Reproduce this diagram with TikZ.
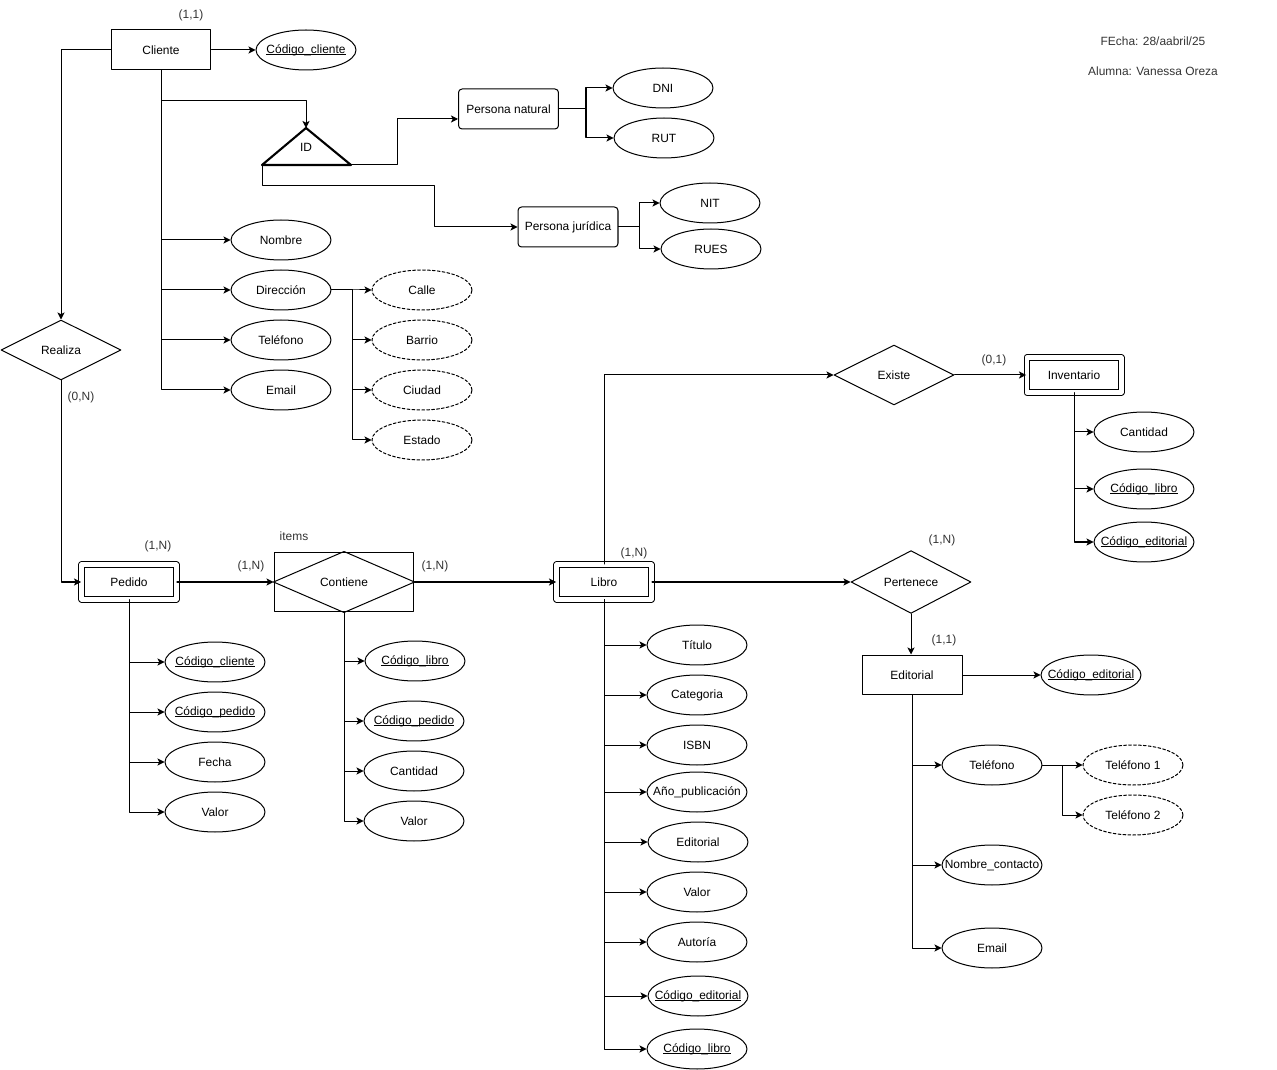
\documentclass[tikz,border=0pt]{standalone}
\usepackage{fontspec}
\setmainfont{Liberation Sans}
\usepackage{tikz}
\usetikzlibrary{arrows.meta,shapes.geometric}

\newcommand{\keyul}[1]{\setbox0\hbox{#1}\rlap{\rule[-0.9pt]{\wd0}{0.4pt}}\box0}

\tikzset{
  ent/.style={draw,rectangle,minimum width=2cm,minimum height=0.8cm,inner sep=0pt},
  went/.style={draw,rectangle,double,double distance=2.3pt,minimum width=1.9cm,minimum height=0.7cm,inner sep=0pt},
  spec/.style={draw,rectangle,rounded corners=2pt,minimum width=2cm,minimum height=0.8cm,inner sep=0pt},
  rel/.style={draw,diamond,minimum width=2.4cm,minimum height=1.2cm,inner sep=0pt},
  attr/.style={draw,ellipse,minimum width=2cm,minimum height=0.8cm,inner sep=0pt,
    execute at begin node={\hbox to 0pt\bgroup\hss},execute at end node={\hss\egroup}},
  mattr/.style={attr,dashed,dash pattern=on 1.6pt off 1.2pt},
  card/.style={inner sep=0pt,text=black!80}
}

\begin{document}
\begin{tikzpicture}[line cap=round,line join=round,>={Stealth[length=4pt,width=4pt,inset=1pt]},x=0.02cm,y=-0.02cm,line width=0.57pt,font=\fontsize{6.8pt}{8pt}\selectfont]
        \useasboundingbox (0,0) rectangle (1277,1070);
        % Cliente
        \node[ent] (cli) at (161,50) {Cliente};
        \node[attr] (codcli) at (306,50) {\keyul{Código\_cliente}};
        \node[card] (c11a) at (191,15) {(1,1)};
        \draw[->] (cli) -- (codcli);
        \node[attr] (nom) at (281,240) {Nombre};
        \node[attr] (dir) at (281,290) {Dirección};
        \node[attr] (tel) at (281,340) {Teléfono};
        \node[attr] (ema) at (281,390) {Email};
        \draw[->] (cli.south) |- (nom.west);
        \draw[->] (cli.south) |- (dir.west);
        \draw[->] (cli.south) |- (tel.west);
        \draw[->] (cli.south) |- (ema.west);
        \node[mattr] (cal) at (422,290) {Calle};
        \node[mattr] (bar) at (422,340) {Barrio};
        \node[mattr] (ciu) at (422,390) {Ciudad};
        \node[mattr] (est) at (422,440) {Estado};
        \draw[->] (dir.east) -- ++(21,0) |- (cal.west);
        \draw[->] (dir.east) -- ++(21,0) |- (bar.west);
        \draw[->] (dir.east) -- ++(21,0) |- (ciu.west);
        \draw[->] (dir.east) -- ++(21,0) |- (est.west);
        % especializacion
        \coordinate (idtop) at (306,128);
        \coordinate (idl) at (262,165);
        \coordinate (idr) at (351,165);
        \draw[line width=1.2pt] (idl) -- (idtop) -- (idr) -- cycle;
        \node (idt) at (306,147) {ID};
        \draw[->] (cli.south) -- ++(0,30) -| (idtop);
        \node[spec] (pnat) at (508.5,109) {Persona natural};
        \node[spec] (pjur) at (568,227) {Persona jurídica};
        \draw[->] (idr) -- ++(46,0) |- ([yshift=-0.2cm]pnat.west);
        \draw[->] (idl) |- (434,186) |- (pjur.west);
        \node[attr] (dni) at (663,88) {DNI};
        \node[attr] (rut) at (664,138) {RUT};
        \node[attr] (nit) at (710,203) {NIT};
        \node[attr] (rues) at (711,249) {RUES};
        \draw[->] (pnat.east) -- ++(27,0) |- (dni.west);
        \draw[->] (pnat.east) -- ++(27,0) |- (rut.west);
        \draw[->] (pjur.east) -- ++(21,0) |- (nit.west);
        \draw[->] (pjur.east) -- ++(21,0) |- (rues.west);
        % Realiza / Pedido
        \node[rel] (rea) at (61,350) {Realiza};
        \node[card] (c0n) at (81,397) {(0,N)};
        \draw[->] (cli.west) -| (rea.north);
        \node[went] (ped) at (129,582) {Pedido};
        \node[card] (c1na) at (158,546) {(1,N)};
        \draw[->] (rea.south) |- (ped.west);
        \node[attr] (pcodcli) at (215,662) {\keyul{Código\_cliente}};
        \node[attr] (pcodped) at (215,712) {\keyul{Código\_pedido}};
        \node[attr] (pfec) at (215,762) {Fecha};
        \node[attr] (pval) at (215,812) {Valor};
        \draw[->] (ped.south) |- (pcodcli.west);
        \draw[->] (ped.south) |- (pcodped.west);
        \draw[->] (ped.south) |- (pfec.west);
        \draw[->] (ped.south) |- (pval.west);
        % Contiene
        \node[draw,rectangle,minimum width=2.8cm,minimum height=1.2cm,inner sep=0pt] (cont) at (344,582) {Contiene};
        \draw (cont.west) -- (cont.north) -- (cont.east) -- (cont.south) -- cycle;
        \node[card] (items) at (294,536) {items};
        \node[card] (c1nb) at (251,566) {(1,N)};
        \node[card] (c1nc) at (435,566) {(1,N)};
        \draw[->] (ped) -- (cont);
        \node[attr] (ccodlib) at (415,661) {\keyul{Código\_libro}};
        \node[attr] (ccodped) at (414,721) {\keyul{Código\_pedido}};
        \node[attr] (ccan) at (414,771) {Cantidad};
        \node[attr] (cval) at (414,821) {Valor};
        \draw[->] (cont.south) |- (ccodlib.west);
        \draw[->] (cont.south) |- (ccodped.west);
        \draw[->] (cont.south) |- (ccan.west);
        \draw[->] (cont.south) |- (cval.west);
        % Libro
        \node[went] (lib) at (604,582) {Libro};
        \node[card] (c1nd) at (634,553) {(1,N)};
        \draw[->] (cont) -- (lib);
        \node[attr] (ltit) at (697,645) {Título};
        \node[attr] (lcat) at (697,695) {Categoria};
        \node[attr] (lisbn) at (697,745) {ISBN};
        \node[attr] (lano) at (697,792) {Año\_publicación};
        \node[attr] (ledi) at (698,842) {Editorial};
        \node[attr] (lval) at (697,892) {Valor};
        \node[attr] (laut) at (697,942) {Autoría};
        \node[attr] (lcoded) at (698,996) {\keyul{Código\_editorial}};
        \node[attr] (lcodlib) at (697,1049) {\keyul{Código\_libro}};
        \foreach \a in {ltit,lcat,lisbn,lano,ledi,lval,laut,lcoded,lcodlib}
          \draw[->] (lib.south) |- (\a.west);
        % Existe / Inventario
        \node[rel] (exi) at (894,375) {Existe};
        \node[card] (c01) at (994,360) {(0,1)};
        \node[went] (inv) at (1074,375) {Inventario};
        \draw[->] (lib.north) |- (exi.west);
        \draw[->] (exi) -- (inv);
        \node[attr] (ican) at (1144,432) {Cantidad};
        \node[attr] (icodlib) at (1144,489) {\keyul{Código\_libro}};
        \node[attr] (icoded) at (1144,542) {\keyul{Código\_editorial}};
        \draw[->] (inv.south) |- (ican.west);
        \draw[->] (inv.south) |- (icodlib.west);
        \draw[->] (inv.south) |- (icoded.west);
        % Pertenece / Editorial
        \node[rel] (per) at (911,582) {Pertenece};
        \node[card] (c1ne) at (942,540) {(1,N)};
        \draw[->] (lib) -- (per);
        \node[ent] (edi) at (912,675) {Editorial};
        \node[card] (c11b) at (944,640) {(1,1)};
        \draw[->] (per.south) -- (per.south |- edi.north);
        \node[attr] (ecoded) at (1091,675) {\keyul{Código\_editorial}};
        \draw[->] (edi) -- (ecoded);
        \node[attr] (etel) at (992,765) {Teléfono};
        \node[attr] (enom) at (992,865) {Nombre\_contacto};
        \node[attr] (eema) at (992,948) {Email};
        \draw[->] (edi.south) |- (etel.west);
        \draw[->] (edi.south) |- (enom.west);
        \draw[->] (edi.south) |- (eema.west);
        \node[mattr] (etel1) at (1133,765) {Teléfono 1};
        \node[mattr] (etel2) at (1133,815) {Teléfono 2};
        \draw[->] (etel) -- (etel1);
        \draw[->] (etel.east) -- ++(20,0) |- (etel2.west);
        % datos
        \node[card] (fecha) at (1153,41) {FEcha: 28/aabril/25};
        \node[card] (alumna) at (1153,71) {Alumna: Vanessa Oreza};
    \end{tikzpicture}
\end{document}
